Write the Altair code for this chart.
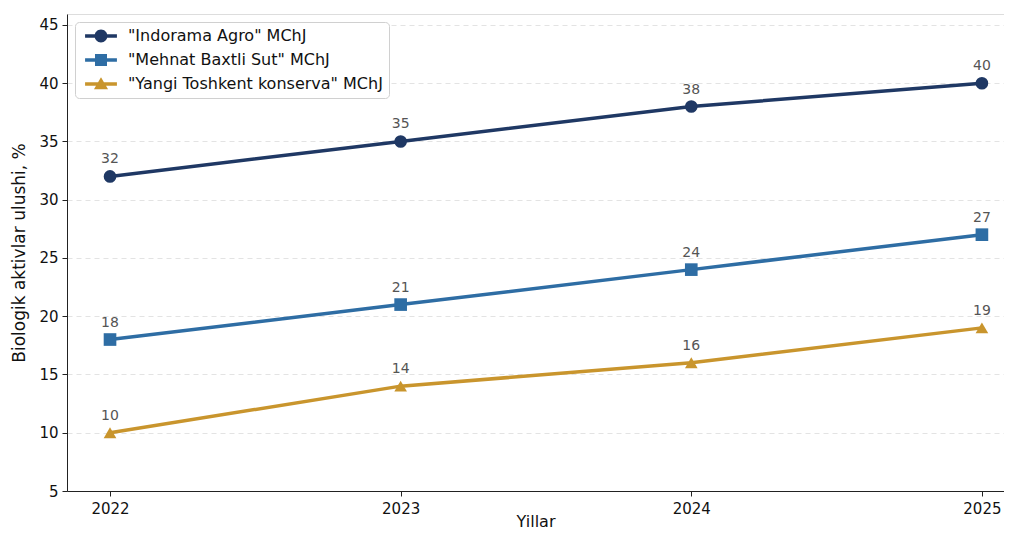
import altair as alt
import pandas as pd

years = [2022, 2023, 2024, 2025]
series_names = ['"Indorama Agro" MChJ', '"Mehnat Baxtli Sut" MChJ', '"Yangi Toshkent konserva" MChJ']
indorama = [32, 35, 38, 40]
mehnat = [18, 21, 24, 27]
yangi = [10, 14, 16, 19]
colors = ["#1f3864", "#2e6da4", "#c9952d"]
shapes = ["circle", "square", "triangle-up"]

rows = []
for name, vals in zip(series_names, [indorama, mehnat, yangi]):
    for y, v in zip(years, vals):
        rows.append({"year": y, "value": v, "series": name})
df = pd.DataFrame(rows)

FONT = "DejaVu Sans"

# legend symbols: marker with a line through it (used only by the legend)
line_part = "M-2.6,-0.28L2.6,-0.28L2.6,0.28L-2.6,0.28Z"
legend_paths = [
    line_part + "M-1.05,0A1.05,1.05 0 1,1 1.05,0A1.05,1.05 0 1,1 -1.05,0Z",
    line_part + "M-0.98,-0.98L0.98,-0.98L0.98,0.98L-0.98,0.98Z",
    line_part + "M0,-1.1L1.15,0.85L-1.15,0.85Z",
]

leg = alt.Legend(title=None, orient="top-left", offset=8, fillColor="white", strokeColor="#d0d0d0",
                 cornerRadius=4, padding=6, labelFontSize=16, labelFont=FONT, labelColor="#111",
                 symbolSize=150, symbolStrokeWidth=0, symbolOpacity=1, rowPadding=8, labelOffset=19,
                 symbolOffset=12, labelLimit=400)

xenc = alt.X("year:Q", scale=alt.Scale(domain=[2021.852, 2025.076], nice=False, zero=False),
             axis=alt.Axis(values=years, format="d", title="Yillar", grid=False,
                           labelFontSize=15, titleFontSize=16, labelPadding=5,
                           titleY=35, titleBaseline="alphabetic",
                           tickSize=5, domainColor="#222", tickColor="#222", labelColor="#111",
                           titleColor="#111", labelFont=FONT, titleFont=FONT, titleFontWeight="normal"))
yenc = alt.Y("value:Q", scale=alt.Scale(domain=[5, 45.94], nice=False, zero=False),
             axis=alt.Axis(values=[5, 10, 15, 20, 25, 30, 35, 40, 45], title="Biologik aktivlar ulushi, %",
                           grid=True, gridDash=[5, 4], gridColor="#e3e3e3", gridWidth=1,
                           labelFontSize=15, titleFontSize=17, labelPadding=4, titlePadding=10,
                           tickSize=5, domainColor="#222", tickColor="#222", labelColor="#111",
                           titleColor="#111", labelFont=FONT, titleFont=FONT, titleFontWeight="normal"))

cscale = alt.Scale(domain=series_names, range=colors)
base = alt.Chart(df)

lines = base.mark_line(strokeWidth=3.5).encode(
    x=xenc, y=yenc, color=alt.Color("series:N", scale=cscale, legend=leg))

point_layers = []
for name, shp in zip(series_names, shapes):
    point_layers.append(
        base.transform_filter(alt.datum.series == name).mark_point(
            filled=True, size=160, opacity=1, shape=shp).encode(
            x="year:Q", y="value:Q",
            color=alt.Color("series:N", scale=cscale, legend=leg)))

legend_layer = base.transform_filter(alt.datum.value < -1000).mark_point(filled=True, opacity=1).encode(
    x="year:Q", y="value:Q",
    color=alt.Color("series:N", scale=cscale, legend=leg),
    shape=alt.Shape("series:N", scale=alt.Scale(domain=series_names, range=legend_paths), legend=leg))

labels = base.mark_text(dy=-17, fontSize=14, color="#555555", font=FONT).encode(
    x="year:Q", y="value:Q", text=alt.Text("value:Q", format="d"))

chart = alt.layer(lines, *point_layers, labels, legend_layer).properties(
    width=937, height=477,
    autosize=alt.AutoSizeParams(type="none"),
    padding={"left": 59, "top": 6, "right": 0, "bottom": 40},
).configure_view(stroke=None).configure(background="white")

chart.save("out.html", embed_options={"renderer": "svg", "actions": False})
